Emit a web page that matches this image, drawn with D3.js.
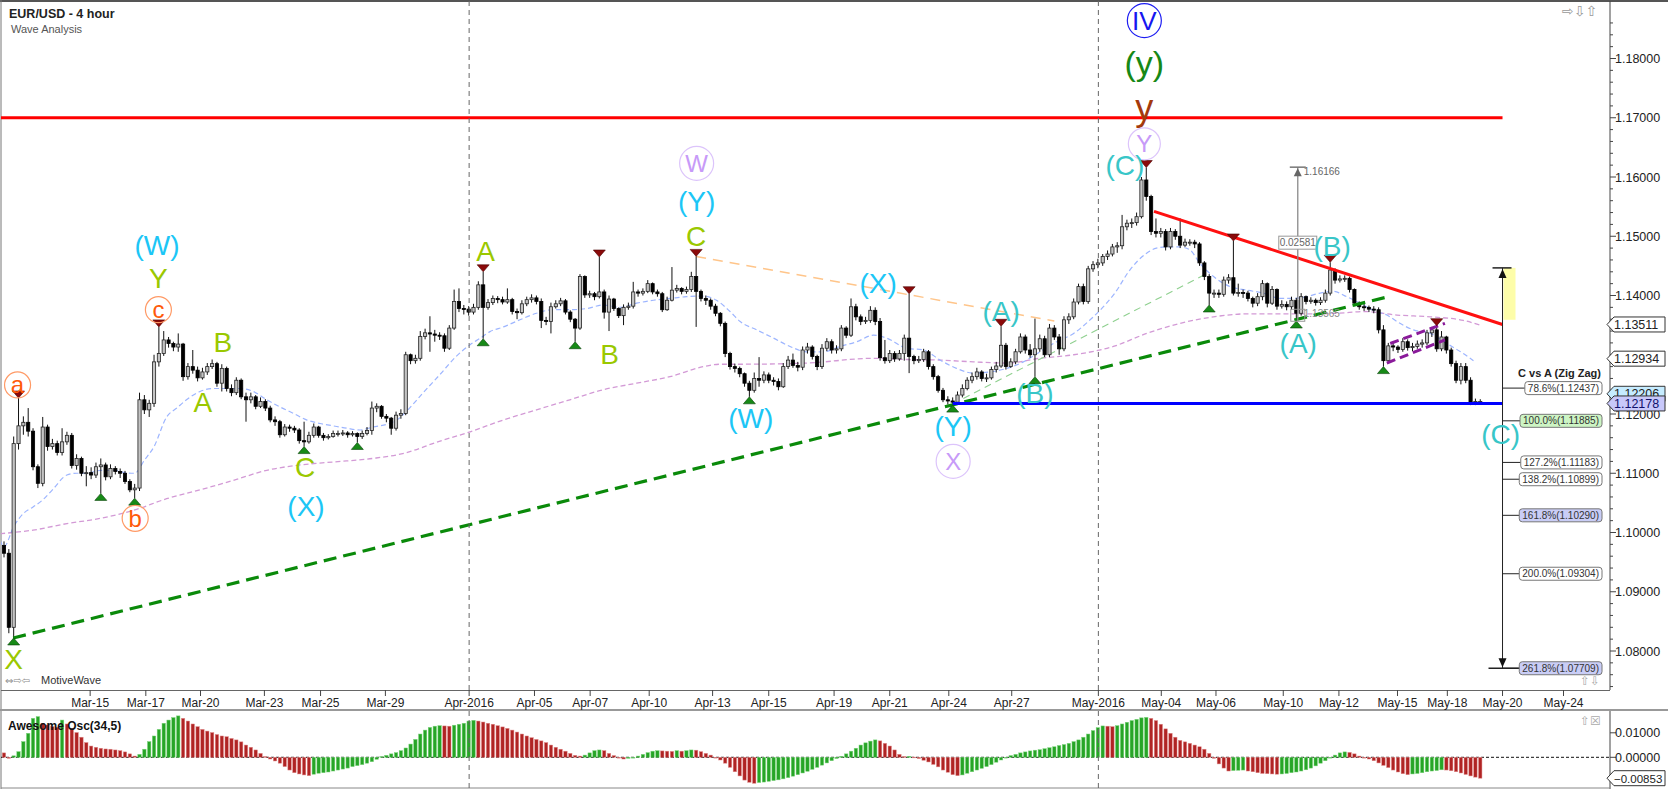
<!DOCTYPE html>
<html><head><meta charset="utf-8">
<script src="https://cdn.jsdelivr.net/npm/d3@7"></script>
<style>body{margin:0;background:#fff;overflow:hidden}svg{display:block;font-family:"Liberation Sans",Arial,sans-serif}</style>
</head><body><svg id="c" width="1668" height="789"></svg>
<script>
// ---------------- DATA ----------------
const firstOpen = 1.0978;
const closes = [1.0965,1.0840,1.1150,1.1180,1.1186,1.1171,1.1111,1.1083,1.1178,1.1145,1.1150,1.1135,1.1153,1.1164,1.1113,1.1125,1.1100,1.1101,1.1097,1.1111,
1.1114,1.1094,1.1108,1.1103,1.1100,1.1086,1.1072,1.1075,1.1224,1.1207,1.1218,1.1288,1.1302,1.1325,1.1319,1.1313,1.1318,1.1263,1.1280,1.1274,
1.1261,1.1271,1.1280,1.1285,1.1252,1.1277,1.1243,1.1236,1.1257,1.1229,1.1224,1.1229,1.1213,1.1221,1.1210,1.1190,1.1187,1.1165,1.1178,1.1176,
1.1173,1.1155,1.1153,1.1164,1.1178,1.1164,1.1160,1.1162,1.1167,1.1167,1.1168,1.1165,1.1167,1.1162,1.1167,1.1172,1.1210,1.1213,1.1196,1.1193,
1.1176,1.1198,1.1201,1.1300,1.1290,1.1294,1.1331,1.1337,1.1335,1.1333,1.1332,1.1311,1.1345,1.1390,1.1378,1.1377,1.1372,1.1380,1.1418,1.1380,
1.1388,1.1395,1.1393,1.1389,1.1393,1.1373,1.1371,1.1386,1.1393,1.1396,1.1390,1.1358,1.1356,1.1381,1.1386,1.1391,1.1372,1.1360,1.1345,1.1432,
1.1401,1.1403,1.1398,1.1406,1.1372,1.1394,1.1378,1.1366,1.1380,1.1382,1.1406,1.1404,1.1407,1.1420,1.1406,1.1403,1.1376,1.1392,1.1409,1.1412,
1.1407,1.1410,1.1432,1.1407,1.1395,1.1392,1.1382,1.1370,1.1353,1.1302,1.1280,1.1277,1.1268,1.1252,1.1240,1.1260,1.1257,1.1266,1.1257,1.1255,
1.1246,1.1280,1.1291,1.1282,1.1279,1.1308,1.1313,1.1297,1.1280,1.1311,1.1322,1.1308,1.1310,1.1345,1.1333,1.1381,1.1364,1.1356,1.1358,1.1375,
1.1356,1.1295,1.1290,1.1302,1.1293,1.1302,1.1328,1.1297,1.1290,1.1292,1.1305,1.1280,1.1263,1.1240,1.1224,1.1222,1.1220,1.1232,1.1243,1.1257,
1.1263,1.1271,1.1260,1.1261,1.1275,1.1281,1.1316,1.1280,1.1288,1.1305,1.1330,1.1308,1.1300,1.1310,1.1327,1.1300,1.1345,1.1330,1.1310,1.1359,
1.1364,1.1389,1.1415,1.1390,1.1445,1.1452,1.1455,1.1466,1.1470,1.1482,1.1484,1.1516,1.1522,1.1523,1.1533,1.1595,1.1567,1.1508,1.1505,1.1508,
1.1482,1.1508,1.1500,1.1485,1.1490,1.1490,1.1487,1.1455,1.1432,1.1404,1.1404,1.1402,1.1426,1.1430,1.1404,1.1405,1.1404,1.1395,1.1387,1.1398,
1.1420,1.1387,1.1410,1.1382,1.1385,1.1381,1.1392,1.1370,1.1398,1.1390,1.1392,1.1388,1.1392,1.1404,1.1443,1.1426,1.1428,1.1429,1.1410,1.1387,
1.1381,1.1380,1.1377,1.1376,1.1342,1.1290,1.1315,1.1313,1.1309,1.1322,1.1312,1.1314,1.1318,1.1320,1.1337,1.1342,1.1310,1.1330,1.1308,1.1285,
1.1257,1.1280,1.1257,1.1220,1.1221,1.1221];
const highs = [1.0985,1.0972,1.1162,1.1227,1.1196,1.1210,1.1176,1.1115,1.1195,1.1182,1.1158,1.1155,1.1176,1.1170,1.1168,1.1132,1.1128,1.1112,1.1110,1.1118,
1.1125,1.1118,1.1115,1.1112,1.1108,1.1104,1.1090,1.1082,1.1236,1.1232,1.1224,1.1300,1.1347,1.1340,1.1330,1.1322,1.1336,1.1320,1.1286,1.1308,
1.1280,1.1278,1.1286,1.1292,1.1288,1.1284,1.1280,1.1250,1.1262,1.1260,1.1236,1.1236,1.1232,1.1228,1.1225,1.1214,1.1196,1.1190,1.1183,1.1182,
1.1180,1.1176,1.1187,1.1170,1.1184,1.1180,1.1168,1.1166,1.1172,1.1172,1.1173,1.1171,1.1171,1.1169,1.1172,1.1178,1.1221,1.1218,1.1215,1.1200,
1.1195,1.1204,1.1208,1.1305,1.1302,1.1300,1.1340,1.1344,1.1365,1.1342,1.1338,1.1336,1.1350,1.1410,1.1412,1.1384,1.1382,1.1386,1.1424,1.1440,
1.1394,1.1400,1.1399,1.1398,1.1412,1.1396,1.1378,1.1392,1.1398,1.1402,1.1400,1.1395,1.1364,1.1388,1.1392,1.1396,1.1394,1.1375,1.1362,1.1436,
1.1434,1.1408,1.1406,1.1465,1.1410,1.1400,1.1396,1.1380,1.1385,1.1388,1.1423,1.1410,1.1412,1.1426,1.1422,1.1410,1.1406,1.1398,1.1448,1.1418,
1.1414,1.1415,1.1440,1.1466,1.1410,1.1400,1.1395,1.1386,1.1372,1.1356,1.1305,1.1285,1.1280,1.1270,1.1256,1.1270,1.1296,1.1272,1.1270,1.1262,
1.1260,1.1286,1.1298,1.1302,1.1288,1.1314,1.1320,1.1316,1.1300,1.1318,1.1328,1.1326,1.1316,1.1350,1.1348,1.1395,1.1386,1.1368,1.1364,1.1382,
1.1380,1.1362,1.1325,1.1308,1.1306,1.1308,1.1334,1.1403,1.1300,1.1298,1.1310,1.1308,1.1284,1.1266,1.1244,1.1230,1.1228,1.1238,1.1250,1.1262,
1.1270,1.1278,1.1274,1.1268,1.1280,1.1288,1.1348,1.1320,1.1294,1.1310,1.1336,1.1334,1.1318,1.1361,1.1334,1.1332,1.1352,1.1350,1.1335,1.1365,
1.1370,1.1395,1.1420,1.1420,1.1450,1.1458,1.1462,1.1470,1.1476,1.1487,1.1490,1.1536,1.1528,1.1530,1.1540,1.1600,1.1616,1.1570,1.1530,1.1514,
1.1512,1.1514,1.1512,1.1530,1.1496,1.1495,1.1494,1.1490,1.1458,1.1436,1.1410,1.1410,1.1432,1.1436,1.1492,1.1420,1.1410,1.1408,1.1398,1.1404,
1.1426,1.1422,1.1416,1.1412,1.1392,1.1390,1.1398,1.1396,1.1404,1.1400,1.1397,1.1395,1.1397,1.1410,1.1456,1.1446,1.1434,1.1434,1.1432,1.1412,
1.1390,1.1386,1.1383,1.1382,1.1380,1.1350,1.1320,1.1320,1.1316,1.1328,1.1326,1.1320,1.1324,1.1326,1.1342,1.1347,1.1349,1.1340,1.1332,1.1312,
1.1290,1.1286,1.1286,1.1262,1.1226,1.1225];
const lows = [1.0958,1.0830,1.0822,1.1140,1.1165,1.1162,1.1105,1.1075,1.1078,1.1138,1.1140,1.1130,1.1130,1.1148,1.1108,1.1106,1.1095,1.1078,1.1090,1.1092,
1.1066,1.1088,1.1090,1.1098,1.1092,1.1082,1.1068,1.1058,1.1070,1.1200,1.1195,1.1212,1.1280,1.1298,1.1312,1.1306,1.1305,1.1256,1.1258,1.1268,
1.1255,1.1258,1.1266,1.1276,1.1246,1.1238,1.1238,1.1230,1.1232,1.1225,1.1187,1.1218,1.1208,1.1210,1.1205,1.1186,1.1180,1.1160,1.1162,1.1170,
1.1168,1.1150,1.1145,1.1150,1.1160,1.1160,1.1155,1.1157,1.1160,1.1162,1.1163,1.1160,1.1162,1.1152,1.1158,1.1164,1.1165,1.1203,1.1192,1.1186,
1.1165,1.1172,1.1192,1.1198,1.1284,1.1285,1.1290,1.1326,1.1305,1.1322,1.1325,1.1305,1.1308,1.1342,1.1372,1.1368,1.1366,1.1368,1.1376,1.1327,
1.1376,1.1384,1.1387,1.1385,1.1386,1.1368,1.1360,1.1368,1.1382,1.1388,1.1385,1.1345,1.1350,1.1336,1.1378,1.1382,1.1368,1.1355,1.1322,1.1342,
1.1396,1.1396,1.1392,1.1395,1.1361,1.1340,1.1374,1.1362,1.1350,1.1376,1.1378,1.1398,1.1400,1.1404,1.1402,1.1398,1.1372,1.1374,1.1390,1.1405,
1.1402,1.1403,1.1406,1.1347,1.1390,1.1384,1.1376,1.1365,1.1348,1.1296,1.1275,1.1270,1.1262,1.1246,1.1229,1.1236,1.1246,1.1252,1.1252,1.1248,
1.1240,1.1244,1.1276,1.1278,1.1272,1.1274,1.1302,1.1292,1.1274,1.1276,1.1306,1.1302,1.1302,1.1306,1.1328,1.1330,1.1358,1.1350,1.1352,1.1354,
1.1350,1.1290,1.1285,1.1286,1.1288,1.1290,1.1290,1.1269,1.1284,1.1286,1.1288,1.1275,1.1258,1.1236,1.1220,1.1216,1.1215,1.1216,1.1228,1.1240,
1.1252,1.1258,1.1255,1.1254,1.1258,1.1270,1.1278,1.1275,1.1278,1.1284,1.1302,1.1302,1.1295,1.1263,1.1305,1.1296,1.1296,1.1325,1.1300,1.1306,
1.1352,1.1360,1.1385,1.1385,1.1386,1.1440,1.1446,1.1450,1.1460,1.1466,1.1472,1.1478,1.1510,1.1514,1.1518,1.1530,1.1560,1.1502,1.1498,1.1498,
1.1476,1.1478,1.1494,1.1480,1.1482,1.1484,1.1480,1.1450,1.1426,1.1384,1.1396,1.1396,1.1398,1.1420,1.1400,1.1398,1.1396,1.1390,1.1380,1.1382,
1.1392,1.1380,1.1384,1.1376,1.1378,1.1375,1.1376,1.1357,1.1366,1.1385,1.1386,1.1383,1.1384,1.1388,1.1400,1.1420,1.1422,1.1423,1.1405,1.1382,
1.1376,1.1374,1.1372,1.1370,1.1336,1.1280,1.1286,1.1306,1.1303,1.1305,1.1307,1.1306,1.1310,1.1312,1.1316,1.1330,1.1305,1.1306,1.1302,1.1280,
1.1252,1.1250,1.1252,1.1215,1.1215,1.1217];
// Awesome oscillator (x 0.001)
const aoValues = [1.8,-0.4,0.6,2.3,6.4,9.8,15.9,16.6,13.9,13.2,12.5,12.3,15.2,13.6,11.8,10.1,8.2,6.0,4.6,4.1,
3.7,3.4,3.3,3.0,2.7,2.2,1.4,0.5,1.2,3.3,6.4,8.7,11.4,13.9,15.2,16.2,16.9,15.9,14.8,13.6,
12.5,11.4,10.7,10.1,9.3,8.7,8.4,7.7,7.1,6.3,5.0,4.1,3.0,1.6,0.3,-0.7,-1.5,-2.4,-3.8,-5.2,
-6.3,-6.8,-7.2,-7.5,-6.9,-6.5,-6.3,-6.0,-5.6,-5.2,-4.8,-4.4,-3.8,-3.4,-3.0,-2.4,-1.8,-0.8,0.3,0.8,
1.4,1.9,2.7,3.8,5.4,7.3,9.5,11.1,12.2,12.7,12.9,12.8,12.7,13.1,13.5,13.9,14.8,15.1,14.8,14.4,
13.9,13.5,12.9,12.4,11.8,11.1,10.3,9.5,8.7,8.0,7.3,6.7,6.0,5.0,4.1,3.3,2.5,1.6,0.8,0.5,
0.9,1.8,2.7,3.0,2.7,1.6,0.7,-0.3,-0.7,-0.4,0.0,0.5,1.2,1.9,2.5,2.7,2.6,2.5,2.4,2.7,
2.5,2.7,3.0,2.9,2.3,1.6,0.9,0.0,-1.1,-2.4,-4.1,-5.9,-7.6,-9.3,-10.2,-10.6,-10.3,-10.1,-9.8,-9.5,
-9.2,-8.8,-8.3,-7.7,-7.1,-6.4,-5.7,-4.9,-4.1,-3.2,-2.3,-1.4,-0.5,0.4,1.4,2.5,3.7,5.0,5.9,6.6,
7.1,6.7,5.7,4.6,3.0,1.2,0.3,0.4,0.1,-0.5,-1.2,-1.9,-2.9,-3.9,-5.2,-6.1,-7.1,-7.5,-7.2,-6.5,
-5.9,-5.2,-4.5,-3.8,-3.0,-2.0,-1.1,-0.3,0.7,1.2,1.8,2.2,2.6,2.9,3.1,3.5,3.9,4.3,4.8,5.2,
5.7,6.4,7.1,8.2,9.5,10.9,12.1,12.8,12.7,12.5,12.9,13.6,14.3,15.0,15.5,16.1,16.3,15.9,15.0,13.5,
11.6,9.8,8.2,6.9,6.3,5.7,5.0,4.3,3.3,1.6,-0.4,-2.7,-4.4,-5.6,-5.4,-5.3,-5.2,-5.6,-5.9,-6.3,
-6.6,-6.7,-6.8,-6.9,-6.8,-6.6,-6.3,-6.0,-5.6,-5.1,-4.4,-3.5,-2.4,-1.4,-0.1,0.9,1.8,2.2,2.0,1.4,
0.5,-0.1,-0.7,-1.4,-2.3,-3.3,-4.2,-5.2,-6.0,-6.7,-7.1,-6.8,-6.6,-6.3,-5.9,-5.6,-5.4,-5.1,-5.2,-5.5,
-5.9,-6.4,-7.0,-7.6,-8.1,-8.53];
// moving averages [bar, price]
const maFastBars = [-0.8,0,2,4,6,8,10,13,15,17,20,23,25,27,29,31,33.6,35.7,37.7,40.5,43.2,46,48.8,51.5,54.3,57,59.8,62.5,65.3,68,70.8,73.6,76.2,79.6,81.7,83.1,86.5,90,93.4,96.3,98.4,100.4,103.2,106.6,110,113.5,116.9,120.4,123.8,127.2,130.7,134.2,137.6,141,144.5,147.2,150,152.1,155.5,159,162.4,165.8,169.3,172.7,176.2,179.6,182.4,186.5,190,193.4,196.8,200.3,203.7,207.2,210.6,214,217.5,221,224.4,227.8,229.5,232.6,236,238.1,240.2,242.9,245,247.1,249.9,253.3,256.8,260.2,263.7,266.4,269.1,271.9,274.7,277.4,280.2,282.9,285.7,288.4,291.2,294.7,298.1,301.5,303.6];
const maFastVals = [1.0987,1.0976,1.1010,1.1032,1.1043,1.1055,1.1072,1.1097,1.1100,1.1100,1.1105,1.1105,1.1101,1.1100,1.1122,1.1145,1.1195,1.1210,1.1224,1.1238,1.1243,1.1243,1.1243,1.1238,1.1224,1.1212,1.1201,1.1190,1.1184,1.1180,1.1176,1.1173,1.1178,1.1184,1.1193,1.1204,1.1235,1.1266,1.1297,1.1317,1.1328,1.1339,1.1347,1.1359,1.1370,1.1376,1.1376,1.1378,1.1384,1.1380,1.1387,1.1392,1.1395,1.1398,1.1399,1.1392,1.1373,1.1356,1.1342,1.1328,1.1314,1.1305,1.1305,1.1314,1.1322,1.1333,1.1328,1.1311,1.1308,1.1291,1.1277,1.1269,1.1271,1.1277,1.1288,1.1305,1.1322,1.1336,1.1359,1.1387,1.1404,1.1443,1.1471,1.1480,1.1482,1.1482,1.1477,1.1454,1.1432,1.1415,1.1409,1.1404,1.1395,1.1395,1.1398,1.1404,1.1407,1.1398,1.1387,1.1375,1.1367,1.1353,1.1342,1.1336,1.1319,1.1302,1.1290];
const maSlowBars = [-0.8,6,13,20,27,33.6,40.5,47.4,54.3,61.2,68,76.2,82.8,89.6,96.3,103.2,110,116.9,123.8,130.7,137.6,144.5,147.9,152,165.8,179.6,186.5,193.4,200.3,207.2,214,221,229.2,236.1,243,249.9,256.8,263.7,270.6,277.4,280.9,287.8,294.7,301.5,305];
const maSlowVals = [1.0998,1.1004,1.1015,1.1024,1.1038,1.1057,1.1072,1.1088,1.1105,1.1114,1.1119,1.1125,1.1134,1.1153,1.1170,1.1190,1.1207,1.1224,1.1241,1.1252,1.1263,1.1280,1.1284,1.1284,1.1286,1.1294,1.1292,1.1291,1.1288,1.1286,1.1294,1.1300,1.1314,1.1336,1.1353,1.1364,1.1369,1.1369,1.1369,1.1371,1.1373,1.1367,1.1364,1.1358,1.1350];
// axis
const dateLabels = ["Mar-15","Mar-17","Mar-20","Mar-23","Mar-25","Mar-29","Apr-2016","Apr-05","Apr-07","Apr-10","Apr-13","Apr-15","Apr-19","Apr-21","Apr-24","Apr-27","May-2016","May-04","May-06","May-10","May-12","May-15","May-18","May-20","May-24"];
const dateBars = [17.8,29.3,40.6,53.8,65.4,78.8,96.1,109.6,121.1,133.3,146.4,158,171.5,183,195.2,208.2,226.1,239.1,250.4,264.3,275.8,287.9,298.2,309.6,322.2];
const monthLineBars = [96.1,226.1];
const priceTicks = [1.08,1.09,1.10,1.11,1.12,1.14,1.15,1.16,1.17,1.18];
const aoTicks = [0.01,0.0];
// pivots
const pivotHighBars = [3,32,99,123,143,187,206,236,254,274,296];
const pivotLowBars = [2,20,27,62,73,99,118,154,196,213,249,267,285];
// wave labels
const waveText  = ["(W)","Y","c","a","b","B","A","C","(X)","X","A","B","C","(Y)","W","(X)","(W)","(A)","(B)","(Y)","X","IV","(y)","y","Y","(C)","(B)","(A)","(C)"];
const waveBar   = [31.6,31.9,31.9,2.8,27.1,45.2,41.1,62.2,62.4,2,99.5,125.1,143,143.1,143.1,180.6,154.3,206,213,196.1,196.1,235.6,235.6,235.6,235.6,231.6,274.4,267.4,309.2];
const wavePrice = [1.1485,1.1429,1.1376,1.1249,1.1024,1.1320,1.1219,1.1110,1.1044,1.0785,1.1474,1.1300,1.1500,1.1558,1.1623,1.1421,1.1193,1.1373,1.1235,1.1179,1.1120,1.1864,1.1792,1.1718,1.1656,1.1620,1.1482,1.1319,1.1165];
const waveKind  = ["cy","lm","or","or","or","lm","lm","lm","cy","lm","lm","lm","lm","cy","pu","cy","cy","tl","tl","cy","pu","iv","dg","br","pu","tl","tl","tl","tl"];
const waveSize  = [28,28,24,24,24,28,28,28,28,28,28,28,28,28,24,28,28,28,28,28,24,26,34,36,24,28,28,28,28];
const waveRing  = [0,0,13,13,13,0,0,0,0,0,0,0,0,0,17,0,0,0,0,0,17,17,0,0,16,0,0,0,0];
// drawn lines
const redLevel = 1.17, lineEndBar = 309.6;
const redTrendBars = [237.6,309.6], redTrendVals = [1.1542,1.13511];
const greenTrendBars = [1.9,286], greenTrendVals = [1.0822,1.1398];
const blueLevel = 1.12178, blueStartBar = 196;
const orangeBars = [143,217], orangeVals = [1.1466,1.1357];
const lightGreenBars = [196,248.5], lightGreenVals = [1.1217,1.1437];
const chanUpBars = [286.4,297.7], chanUpVals = [1.1319,1.1353];
const chanLoBars = [285.7,297.7], chanLoVals = [1.1286,1.1325];
// measure tool
const measureBar = 267.3, measureLow = 1.13565, measureHigh = 1.16166, measureDiff = "0.02581", measureBoxPrice = 1.1490;
// fib projection
const fibTop = 1.14466, fibZoneLow = 1.1359;
const fibPct = ["78.6%","100.0%","127.2%","138.2%","161.8%","200.0%","261.8%"];
const fibVal = [1.12437,1.11885,1.11183,1.10899,1.10290,1.09304,1.07709];
const fibFill = ["#ffffff","#cdf5c4","#ffffff","#ffffff","#c9cdf6","#ffffff","#c9cdf6"];
// axis boxes
const axisBoxVals = [1.13511,1.12934,1.12206,1.12178];
const axisBoxFill = ["#ffffff","#ffffff","#c6ecff","#c8c8fa"];
const axisBoxShift = [0,0,-8,0];
const aoLast = -0.00853;

// ---------------- SCALES ----------------
const svg = d3.select("#c");
const PR = 1610, PB = 690, OT = 711;
const x = d3.scaleLinear().domain([0,331.6]).range([4,1609]);
const y = d3.scaleLinear().domain([1.08,1.18]).range([651,58.5]);
const yo = d3.scaleLinear().domain([-0.01,0.01]).range([781.8,732.8]);
const fmt5 = d3.format(".5f");

svg.append("rect").attr("width",1668).attr("height",789).attr("fill","#fff");
const defs = svg.append("defs");
defs.append("clipPath").attr("id","cm").append("rect").attr("x",1).attr("y",1).attr("width",PR-1).attr("height",PB-1);
defs.append("clipPath").attr("id","co").append("rect").attr("x",1).attr("y",OT).attr("width",PR-1).attr("height",789-OT);

// frames
svg.append("line").attr("x1",0).attr("x2",1668).attr("y1",1).attr("y2",1).attr("stroke","#555").attr("stroke-width",2);
svg.append("line").attr("x1",1).attr("x2",1).attr("y1",0).attr("y2",789).attr("stroke","#777");
svg.append("line").attr("x1",PR).attr("x2",PR).attr("y1",1).attr("y2",PB).attr("stroke","#444");
svg.append("line").attr("x1",PR).attr("x2",PR).attr("y1",OT).attr("y2",789).attr("stroke","#444");
svg.append("line").attr("x1",1).attr("x2",PR).attr("y1",PB+0.5).attr("y2",PB+0.5).attr("stroke","#666");
svg.append("line").attr("x1",0).attr("x2",1668).attr("y1",OT-1).attr("y2",OT-1).attr("stroke","#999").attr("stroke-width",2);
svg.append("line").attr("x1",1).attr("x2",PR).attr("y1",788).attr("y2",788).attr("stroke","#888");

const gm = svg.append("g").attr("clip-path","url(#cm)");
const go = svg.append("g").attr("clip-path","url(#co)");

// month dashed lines
monthLineBars.forEach(b=>{
  [[1,PB],[OT,789]].forEach(([a,c])=>svg.append("line").attr("x1",x(b)).attr("x2",x(b)).attr("y1",a).attr("y2",c)
    .attr("stroke","#666").attr("stroke-dasharray","5,4"));
});

// moving averages
const maLine = d3.line().x(d=>x(d[0])).y(d=>y(d[1])).curve(d3.curveMonotoneX);
gm.append("path").attr("d",maLine(maSlowBars.map((b,i)=>[b,maSlowVals[i]]))).attr("fill","none")
  .attr("stroke","#d39ad6").attr("stroke-width",1.3).attr("stroke-dasharray","5,3");
gm.append("path").attr("d",maLine(maFastBars.map((b,i)=>[b,maFastVals[i]]))).attr("fill","none")
  .attr("stroke","#9db5ff").attr("stroke-width",1.2).attr("stroke-dasharray","5,3");

// thin dashed helper lines
function seg(bars,vals,color,w,dash){
  gm.append("line").attr("x1",x(bars[0])).attr("y1",y(vals[0])).attr("x2",x(bars[1])).attr("y2",y(vals[1]))
    .attr("stroke",color).attr("stroke-width",w).attr("stroke-dasharray",dash||null);
}
seg(orangeBars,orangeVals,"#ffc58a",1.5,"10,7");
seg(lightGreenBars,lightGreenVals,"#8fd08f",1.1,"7,5");

// candles
const cw = 3.2;
const candles = gm.append("g");
closes.forEach((c,i)=>{
  const o = i===0 ? firstOpen : closes[i-1];
  const cx = x(i);
  candles.append("line").attr("x1",cx).attr("x2",cx).attr("y1",y(highs[i])).attr("y2",y(lows[i]))
    .attr("stroke","#111").attr("stroke-width",1);
  const top = y(Math.max(o,c)), bot = y(Math.min(o,c));
  const up = c>=o;
  candles.append("rect").attr("x",cx-cw/2).attr("y",top).attr("width",cw).attr("height",Math.max(1,bot-top))
    .attr("fill",up?"#c4c4c4":"#000").attr("stroke",up?"#222":"#000").attr("stroke-width",0.8);
});

// main drawn lines
gm.append("line").attr("x1",0).attr("x2",x(lineEndBar)).attr("y1",y(redLevel)).attr("y2",y(redLevel)).attr("stroke","#ff0000").attr("stroke-width",3);
seg(greenTrendBars,greenTrendVals,"#0a8a0a",3.2,"13,7");
gm.append("line").attr("x1",x(blueStartBar)).attr("x2",x(lineEndBar)).attr("y1",y(blueLevel)).attr("y2",y(blueLevel)).attr("stroke","#0000ff").attr("stroke-width",3);
seg(redTrendBars,redTrendVals,"#ff1010",3,null);
seg(chanUpBars,chanUpVals,"#8a1a9a",3,"9,5");
seg(chanLoBars,chanLoVals,"#8a1a9a",3,"9,5");

// pivot markers
pivotHighBars.forEach(b=>{
  const cx=x(b), t=y(highs[b]);
  gm.append("path").attr("d",`M${cx-6},${t-7}L${cx+6},${t-7}L${cx},${t}Z`).attr("fill","#8b0a0a").attr("stroke","#4a0000").attr("stroke-width",0.6);
});
pivotLowBars.forEach(b=>{
  const cx=x(b), t=y(lows[b]);
  gm.append("path").attr("d",`M${cx-6},${t+7}L${cx+6},${t+7}L${cx},${t}Z`).attr("fill","#178a17").attr("stroke","#064006").attr("stroke-width",0.6);
});

// measure tool
const mx = x(measureBar);
gm.append("line").attr("x1",mx).attr("x2",mx).attr("y1",y(measureLow)).attr("y2",y(measureHigh)).attr("stroke","#8a8a8a").attr("stroke-width",1.3);
gm.append("line").attr("x1",mx-8).attr("x2",mx+8).attr("y1",y(measureHigh)).attr("y2",y(measureHigh)).attr("stroke","#777").attr("stroke-width",1.5);
gm.append("path").attr("d",`M${mx-4},${y(measureHigh)+9}L${mx+4},${y(measureHigh)+9}L${mx},${y(measureHigh)+1}Z`).attr("fill","#666");
gm.append("rect").attr("x",mx-7).attr("y",y(measureLow)-12).attr("width",14).attr("height",12).attr("fill","none").attr("stroke","#999");
gm.append("text").attr("x",mx+6).attr("y",y(measureHigh)+8).text(fmt5(measureHigh)).attr("font-size",10).attr("fill","#666");
gm.append("text").attr("x",mx+6).attr("y",y(measureLow)-4).text(fmt5(measureLow)).attr("font-size",10).attr("fill","#888");
const mb = gm.append("g");
mb.append("rect").attr("x",mx-19).attr("y",y(measureBoxPrice)-6).attr("width",38).attr("height",13).attr("fill","#fff").attr("stroke","#999");
mb.append("text").attr("x",mx).attr("y",y(measureBoxPrice)+4).attr("text-anchor","middle").text(measureDiff).attr("font-size",10).attr("fill","#666");

// fib projection tool
const fx = x(lineEndBar);
gm.append("rect").attr("x",fx+1).attr("y",y(fibTop)).attr("width",12).attr("height",y(fibZoneLow)-y(fibTop)).attr("fill","#fdfd9a").attr("opacity",0.85);
gm.append("line").attr("x1",fx).attr("x2",fx).attr("y1",y(fibTop)).attr("y2",y(fibVal[fibVal.length-1])).attr("stroke","#222").attr("stroke-width",1);
gm.append("line").attr("x1",fx-10).attr("x2",fx+9).attr("y1",y(fibTop)).attr("y2",y(fibTop)).attr("stroke","#222").attr("stroke-width",1.5);
gm.append("path").attr("d",`M${fx-4},${y(fibTop)+10}L${fx+4},${y(fibTop)+10}L${fx},${y(fibTop)+1}Z`).attr("fill","#111");
const fb = y(fibVal[fibVal.length-1]);
gm.append("line").attr("x1",fx-14).attr("x2",fx+20).attr("y1",fb).attr("y2",fb).attr("stroke","#222").attr("stroke-width",1.5);
gm.append("path").attr("d",`M${fx-4},${fb-10}L${fx+4},${fb-10}L${fx},${fb-1}Z`).attr("fill","#111");
gm.append("text").attr("x",1601).attr("y",y(1.1270)+4).attr("text-anchor","end").attr("font-weight","bold").attr("font-size",11).attr("fill","#222").text("C vs A (Zig Zag)");
fibPct.forEach((p,i)=>{
  const yy = y(fibVal[i]);
  const g = gm.append("g");
  const t = g.append("text").attr("x",1599).attr("y",yy+3.5).attr("text-anchor","end").attr("font-size",10).attr("fill","#333")
     .text(`${p}(${fmt5(fibVal[i])})`);
  const bb = t.node().getBBox();
  g.insert("rect","text").attr("x",bb.x-3).attr("y",yy-6.5).attr("width",bb.width+6).attr("height",13).attr("rx",3)
    .attr("fill",fibFill[i]).attr("stroke","#777");
  g.insert("line","rect").attr("x1",fx).attr("x2",bb.x-3).attr("y1",yy).attr("y2",yy).attr("stroke","#222").attr("stroke-width",1);
});

// wave labels
const kindColor = {cy:"#1cc6f6",lm:"#9ac800",or:"#ff5a0a",pu:"#c79af8",tl:"#38c6c8",iv:"#1616f0",dg:"#168816",br:"#a43a0c"};
const ringColor = {or:"#ff9a66",pu:"#dcc4fb",iv:"#1e1ef2"};
waveText.forEach((t,i)=>{
  const cx = x(waveBar[i]), cy = y(wavePrice[i]);
  const k = waveKind[i];
  if(waveRing[i]>0){
    gm.append("circle").attr("cx",cx).attr("cy",cy).attr("r",waveRing[i]).attr("fill","none").attr("stroke",ringColor[k]).attr("stroke-width",1.2);
  }
  gm.append("text").attr("x",cx).attr("y",cy).attr("text-anchor","middle").attr("dominant-baseline","central")
    .attr("font-size",waveSize[i]).attr("fill",kindColor[k]).text(t);
});

// titles
svg.append("text").attr("x",9).attr("y",18).attr("font-weight","bold").attr("font-size",12.5).attr("fill","#222").text("EUR/USD - 4 hour");
svg.append("text").attr("x",11).attr("y",33).attr("font-size",11).attr("fill","#555").text("Wave Analysis");
svg.append("text").attr("x",5).attr("y",684).attr("font-size",10).attr("font-family","DejaVu Sans").attr("fill","#888").text("⇔⇨⇦");
svg.append("text").attr("x",41).attr("y",684).attr("font-size",11).attr("fill","#333").text("MotiveWave");
svg.append("text").attr("x",1562).attr("y",16).attr("font-size",14).attr("font-family","DejaVu Sans").attr("fill","#999").text("⇨⇩⇧");
svg.append("text").attr("x",1580).attr("y",685).attr("font-size",12).attr("font-family","DejaVu Sans").attr("fill","#aaa").text("⇧⇩");
svg.append("text").attr("x",1580).attr("y",725).attr("font-size",12).attr("font-family","DejaVu Sans").attr("fill","#aaa").text("⇧☒");

// price axis
d3.range(1.074,1.1861,0.002).forEach(v=>{
  const major = Math.abs(v*100-Math.round(v*100))<1e-6;
  svg.append("line").attr("x1",PR).attr("x2",PR+(major?6:3)).attr("y1",y(v)).attr("y2",y(v)).attr("stroke","#444");
});
priceTicks.forEach(v=>{
  svg.append("text").attr("x",1615).attr("y",y(v)+4.5).attr("font-size",12.5).attr("fill","#222").text(fmt5(v));
});
function axisBox(yy,label,fill,color,fs){
  const g = svg.append("g");
  g.append("path").attr("d",`M${PR-3},${yy}L${PR+4},${yy-7.5}L1665,${yy-7.5}L1665,${yy+7.5}L${PR+4},${yy+7.5}Z`)
    .attr("fill",fill).attr("stroke","#333").attr("stroke-width",1);
  g.append("text").attr("x",1614).attr("y",yy+4.5).attr("font-size",fs||12.5).attr("fill",color||"#222").text(label);
}
axisBoxVals.forEach((v,i)=>axisBox(y(v)+axisBoxShift[i],fmt5(v),axisBoxFill[i],i===3?"#10106a":"#222"));

// date axis
dateBars.forEach((b,i)=>{
  svg.append("line").attr("x1",x(b)).attr("x2",x(b)).attr("y1",PB).attr("y2",PB+6).attr("stroke","#444");
  svg.append("text").attr("x",x(b)).attr("y",707).attr("text-anchor","middle").attr("font-size",12).attr("fill","#222").text(dateLabels[i]);
});

// awesome oscillator
go.append("line").attr("x1",1).attr("x2",PR).attr("y1",yo(0)).attr("y2",yo(0)).attr("stroke","#111").attr("stroke-dasharray","3,2");
aoValues.forEach((v,i)=>{
  const val = v/1000;
  const up = i>0 && v>aoValues[i-1];
  const y0 = yo(0), y1 = yo(val);
  go.append("rect").attr("x",x(i)-1.7).attr("y",Math.min(y0,y1)).attr("width",3.4).attr("height",Math.max(0.8,Math.abs(y1-y0)))
    .attr("fill",up?"#27a527":"#b02424").attr("stroke",up?"#7ad47a":"#e08a8a").attr("stroke-width",0.5);
});
svg.append("text").attr("x",8).attr("y",730).attr("font-weight","bold").attr("font-size",12).attr("fill","#111").text("Awesome Osc(34,5)");
aoTicks.forEach(v=>{
  svg.append("line").attr("x1",PR).attr("x2",PR+6).attr("y1",yo(v)).attr("y2",yo(v)).attr("stroke","#444");
  svg.append("text").attr("x",1615).attr("y",yo(v)+4.5).attr("font-size",12.5).attr("fill","#222").text(fmt5(v));
});
axisBox(yo(aoLast),fmt5(aoLast),"#ffffff","#222",11.5);
</script></body></html>
